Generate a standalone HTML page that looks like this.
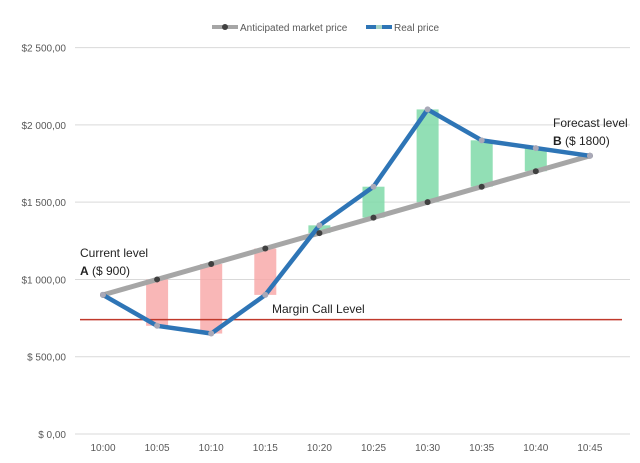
<!DOCTYPE html>
<html><head><meta charset="utf-8"><style>
html,body{margin:0;padding:0;background:#fff;}
svg{display:block;font-family:"Liberation Sans",sans-serif;}
</style></head><body>
<svg id="chart" width="640" height="463" viewBox="0 0 640 463">
<g id="grid"></g><g id="bars"></g><g id="lines"></g><g id="labels"></g>
<g>
 <line x1="212" y1="27" x2="238" y2="27" stroke="#a6a6a6" stroke-width="4"/>
 <circle cx="225" cy="27" r="3" fill="#404040"/>
 <text x="240" y="31" font-size="10" fill="#595959">Anticipated market price</text>
 <line x1="366" y1="27" x2="392" y2="27" stroke="#2e75b6" stroke-width="4"/>
 <rect x="376" y="25" width="6" height="4" fill="#a9d5c4"/>
 <text x="394" y="31" font-size="10" fill="#595959">Real price</text>
</g>
<text x="80" y="257" font-size="12" fill="#222">Current level</text>
<text x="80" y="275" font-size="12" fill="#222"><tspan font-weight="bold">A</tspan> ($ 900)</text>
<text x="553" y="127" font-size="12" fill="#222">Forecast level</text>
<text x="553" y="145" font-size="12" fill="#222"><tspan font-weight="bold">B</tspan> ($ 1800)</text>
<text x="272" y="313" font-size="12" fill="#222">Margin Call Level</text>
</svg>
<script>
const categories=["10:00","10:05","10:10","10:15","10:20","10:25","10:30","10:35","10:40","10:45"];
const anticipated=[900,1000,1100,1200,1300,1400,1500,1600,1700,1800];
const real=[900,700,650,900,1350,1600,2100,1900,1850,1800];
const yTicks=[0,500,1000,1500,2000,2500];
const yTickLabels=["$ 0,00","$ 500,00","$1 000,00","$1 500,00","$2 000,00","$2 500,00"];
const marginCall=740;
const NS="http://www.w3.org/2000/svg";
const x=i=>103+i*54.1;
const y=v=>434-v*0.15456;
function mk(tag,attrs,parent){const e=document.createElementNS(NS,tag);for(const k in attrs)e.setAttribute(k,attrs[k]);document.getElementById(parent).appendChild(e);return e;}
yTicks.forEach((t,i)=>{
 const l=mk('line',{x1:75,x2:630,y1:y(t),y2:y(t),stroke:'#d9d9d9','stroke-width':1},'grid');
 
 
 const tx=mk('text',{x:66,y:y(t)+4,'text-anchor':'end','font-size':10,fill:'#595959'},'grid');
 
 
 tx.textContent=yTickLabels[i];
});
categories.forEach((c,i)=>{
 const tx=mk('text',{x:x(i),y:451,'text-anchor':'middle','font-size':10,fill:'#595959'},'grid');
 
 
 tx.textContent=c;
 if(i>0&&i<categories.length-1&&anticipated[i]!==real[i]){
  const up=real[i]>anticipated[i];
  const top=y(Math.max(real[i],anticipated[i])),bot=y(Math.min(real[i],anticipated[i]));
  const r=mk('rect',{x:x(i)-11,y:top,width:22,height:bot-top,fill:up?'#7fd9a8':'#f7a5a5','fill-opacity':up?0.85:0.8},'bars');
  
  
 }
});
const ml=mk('line',{x1:80,x2:622,y1:y(marginCall),y2:y(marginCall),stroke:'#c0392b','stroke-width':1.5},'lines');


const pa=mk('polyline',{points:anticipated.map((v,i)=>x(i)+','+y(v)).join(' '),fill:'none',stroke:'#a6a6a6','stroke-width':5,'stroke-linejoin':'round'},'lines');


const pr=mk('polyline',{points:real.map((v,i)=>x(i)+','+y(v)).join(' '),fill:'none',stroke:'#2e75b6','stroke-width':4.5,'stroke-linejoin':'round'},'lines');


anticipated.forEach((v,i)=>{
 const c=mk('circle',{cx:x(i),cy:y(v),r:3,fill:'#404040'},'lines');
 
 
});
real.forEach((v,i)=>{
 const c=mk('circle',{cx:x(i),cy:y(v),r:3,fill:'#a9a9b8'},'lines');
 
 
});
</script>
</body></html>
